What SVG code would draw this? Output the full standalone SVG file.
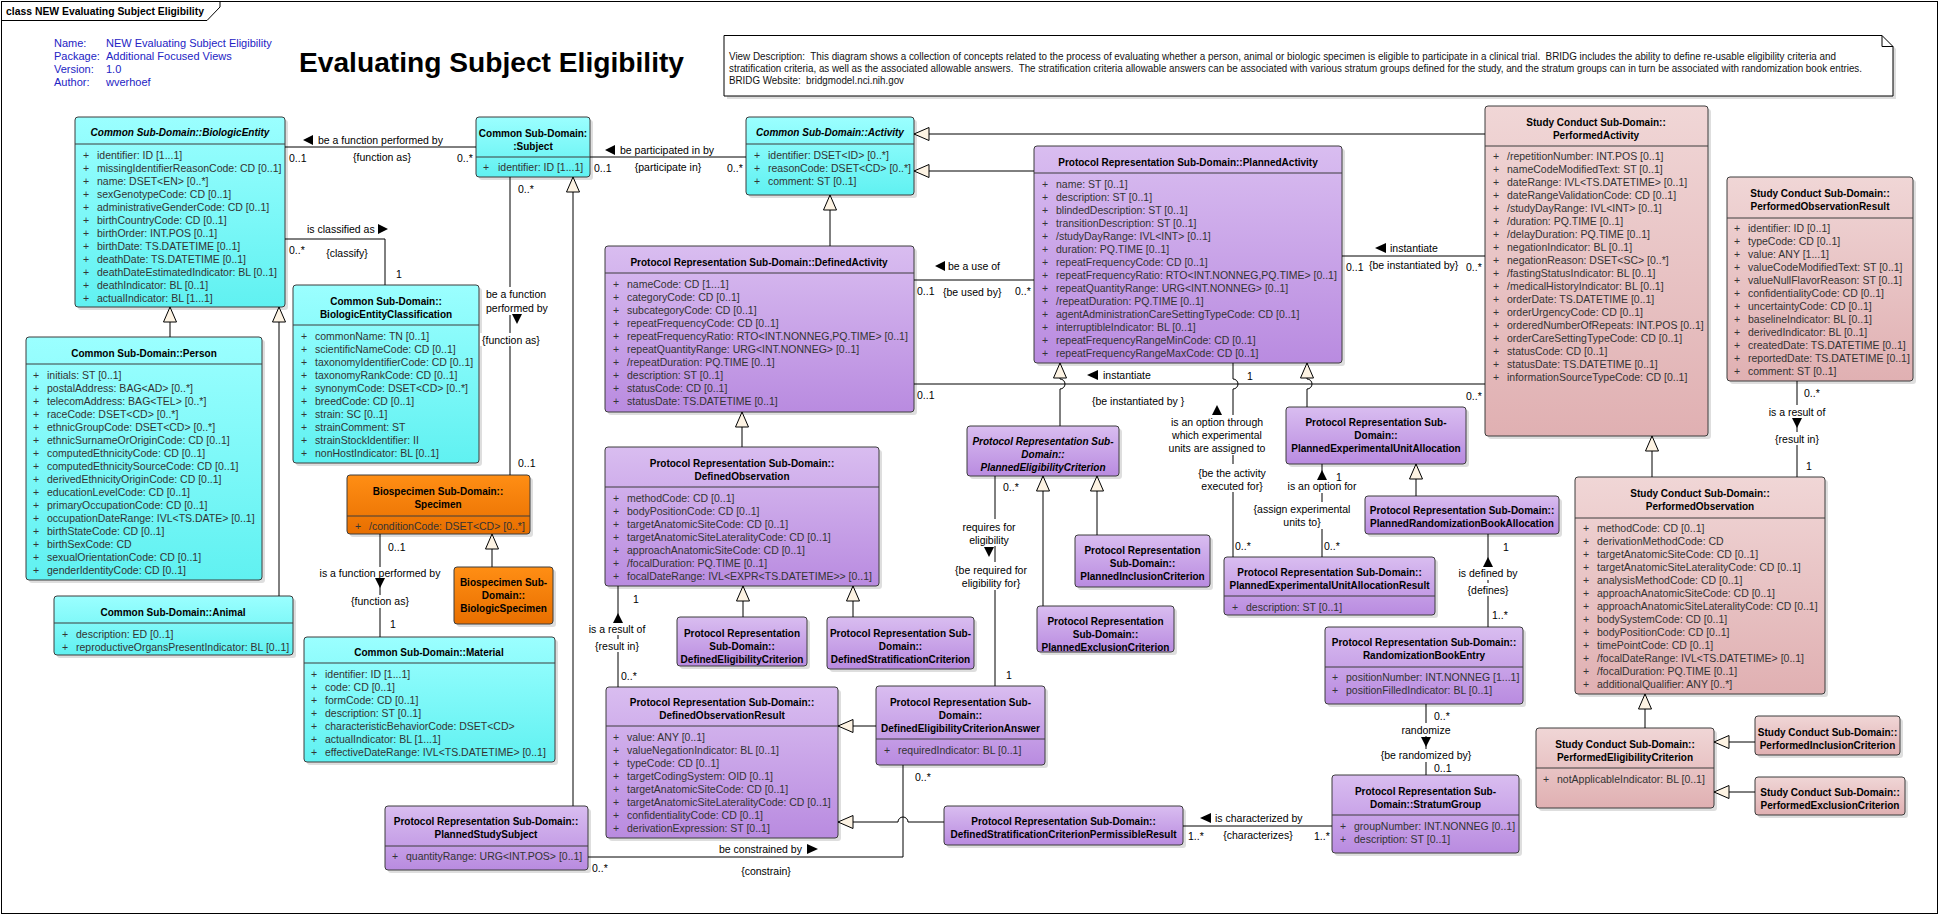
<svg xmlns="http://www.w3.org/2000/svg" width="1939" height="915" viewBox="0 0 1939 915">
<style>
text{font-family:"Liberation Sans",Arial,sans-serif}
.h{font-size:10px;font-weight:bold;text-anchor:middle;fill:#000}
.hi{font-style:italic}
.a{font-size:10.5px;fill:#333}
.l{font-size:10.5px;fill:#000}
.m{text-anchor:middle}
.bx{stroke:#3c3c3c;stroke-width:1}
.cy{fill:url(#gc)}.pu{fill:url(#gp)}.pk{fill:url(#gk)}.or{fill:url(#go)}
.sh{fill:#000;opacity:0.13}
.sp{stroke:#3c3c3c;stroke-width:1}
.c{fill:none;stroke:#000;stroke-width:1}
.g{marker-end:url(#tri)}
.bg{fill:#fff}
.ar{fill:#000}
.info{font-size:11px;fill:#2323c4}
.nt{font-size:10px;fill:#111;white-space:pre}
</style>
<defs>
<linearGradient id="gc" x1="0" y1="0" x2="0" y2="1"><stop offset="0" stop-color="#9bffff"/><stop offset="1" stop-color="#60f1f1"/></linearGradient>
<linearGradient id="gp" x1="0" y1="0" x2="0" y2="1"><stop offset="0" stop-color="#d9bdf0"/><stop offset="1" stop-color="#b98be0"/></linearGradient>
<linearGradient id="gk" x1="0" y1="0" x2="0" y2="1"><stop offset="0" stop-color="#f0d6d6"/><stop offset="1" stop-color="#e0b0b2"/></linearGradient>
<linearGradient id="go" x1="0" y1="0" x2="0" y2="1"><stop offset="0" stop-color="#ff8e14"/><stop offset="1" stop-color="#e86f00"/></linearGradient>
<marker id="tri" viewBox="0 0 16 15" refX="15.5" refY="7.5" markerWidth="16" markerHeight="15" markerUnits="userSpaceOnUse" orient="auto"><path d="M0.5,1 L15.5,7.5 L0.5,14 Z" fill="#fdf3e3" stroke="#000" stroke-width="1"/></marker>
</defs>
<rect x="0" y="0" width="1939" height="915" fill="#fff"/>
<g id="frame">
<rect x="1.5" y="1.5" width="1936" height="912" fill="none" stroke="#000"/>
<path d="M1.5,20.5 H207 L220,7 V1.5" fill="none" stroke="#000"/>
<text x="6" y="15" style="font-size:10.5px;font-weight:bold" textLength="198" lengthAdjust="spacingAndGlyphs">class NEW Evaluating Subject Eligibility</text>
</g>
<g id="info">
<text class="info" x="54" y="47">Name:</text><text class="info" x="106" y="47">NEW Evaluating Subject Eligibility</text>
<text class="info" x="54" y="60">Package:</text><text class="info" x="106" y="60">Additional Focused Views</text>
<text class="info" x="54" y="73">Version:</text><text class="info" x="106" y="73">1.0</text>
<text class="info" x="54" y="86">Author:</text><text class="info" x="106" y="86">wverhoef</text>
</g>
<g id="title"><text x="299" y="72" style="font-size:28px;font-weight:bold" textLength="385" lengthAdjust="spacingAndGlyphs">Evaluating Subject Eligibility</text></g>
<g id="note">
<path d="M727,38 H1885 L1896,49 V99 H727 Z" class="sh"/>
<path d="M724,35.5 H1882 L1893,46.5 V96 H724 Z" fill="#fff" stroke="#000"/>
<path d="M1882,35.5 V46.5 H1893" fill="none" stroke="#000"/>
<text class="nt" x="729" y="59.5" textLength="1107" lengthAdjust="spacingAndGlyphs">View Description:  This diagram shows a collection of concepts related to the process of evaluating whether a person, animal or biologic specimen is eligible to participate in a clinical trial.  BRIDG includes the ability to define re-usable eligibility criteria and</text>
<text class="nt" x="729" y="71.5" textLength="1133" lengthAdjust="spacingAndGlyphs">stratification criteria, as well as the associated allowable answers.  The stratification criteria allowable answers can be associated with various stratum groups defined for the study, and the stratum groups can in turn be associated with randomization book entries.</text>
<text class="nt" x="729" y="83.5" textLength="175" lengthAdjust="spacingAndGlyphs">BRIDG Website:  bridgmodel.nci.nih.gov</text>
</g>

<g id="BiologicEntity">
<rect class="sh" x="78" y="120" width="210" height="190" rx="3"/>
<rect class="bx cy" x="75" y="117" width="210" height="190" rx="3"/>
<line class="sp" x1="75" y1="144" x2="285" y2="144"/>
<text class="h hi" x="180" y="135.5">Common Sub-Domain::BiologicEntity</text>
<text class="a" x="83 83 83 83 83 83 83 83 83 83 83 83" y="158.5 171.5 184.5 197.5 210.5 223.5 236.5 249.5 262.5 275.5 288.5 301.5">++++++++++++</text>
<text class="a"><tspan x="97" y="158.5">identifier: ID [1...1]</tspan><tspan x="97" dy="13">missingIdentifierReasonCode: CD [0..1]</tspan><tspan x="97" dy="13">name: DSET&lt;EN&gt; [0..*]</tspan><tspan x="97" dy="13">sexGenotypeCode: CD [0..1]</tspan><tspan x="97" dy="13">administrativeGenderCode: CD [0..1]</tspan><tspan x="97" dy="13">birthCountryCode: CD [0..1]</tspan><tspan x="97" dy="13">birthOrder: INT.POS [0..1]</tspan><tspan x="97" dy="13">birthDate: TS.DATETIME [0..1]</tspan><tspan x="97" dy="13">deathDate: TS.DATETIME [0..1]</tspan><tspan x="97" dy="13">deathDateEstimatedIndicator: BL [0..1]</tspan><tspan x="97" dy="13">deathIndicator: BL [0..1]</tspan><tspan x="97" dy="13">actualIndicator: BL [1...1]</tspan></text>
</g>

<g id="Subject">
<rect class="sh" x="479" y="120" width="114" height="60" rx="3"/>
<rect class="bx cy" x="476" y="117" width="114" height="60" rx="3"/>
<line class="sp" x1="476" y1="157" x2="590" y2="157"/>
<text class="h" x="533" y="136.5">Common Sub-Domain:</text>
<text class="h" x="533" y="149.5">:Subject</text>
<text class="a" x="483" y="170.5">+</text><text class="a" x="498" y="170.5">identifier: ID [1...1]</text>
</g>

<g id="Activity">
<rect class="sh" x="749" y="120" width="168" height="78" rx="3"/>
<rect class="bx cy" x="746" y="117" width="168" height="78" rx="3"/>
<line class="sp" x1="746" y1="144" x2="914" y2="144"/>
<text class="h hi" x="830" y="135.5">Common Sub-Domain::Activity</text>
<text class="a" x="754 754 754" y="158.5 171.5 184.5">+++</text>
<text class="a"><tspan x="768" y="158.5">identifier: DSET&lt;ID&gt; [0..*]</tspan><tspan x="768" dy="13">reasonCode: DSET&lt;CD&gt; [0..*]</tspan><tspan x="768" dy="13">comment: ST [0..1]</tspan></text>
</g>

<g id="PlannedActivity">
<rect class="sh" x="1037" y="149" width="308" height="217" rx="3"/>
<rect class="bx pu" x="1034" y="146" width="308" height="217" rx="3"/>
<line class="sp" x1="1034" y1="173" x2="1342" y2="173"/>
<text class="h" x="1188" y="165.5">Protocol Representation Sub-Domain::PlannedActivity</text>
<text class="a" x="1042 1042 1042 1042 1042 1042 1042 1042 1042 1042 1042 1042 1042 1042" y="187.5 200.5 213.5 226.5 239.5 252.5 265.5 278.5 291.5 304.5 317.5 330.5 343.5 356.5">++++++++++++++</text>
<text class="a"><tspan x="1056" y="187.5">name: ST [0..1]</tspan><tspan x="1056" dy="13">description: ST [0..1]</tspan><tspan x="1056" dy="13">blindedDescription: ST [0..1]</tspan><tspan x="1056" dy="13">transitionDescription: ST [0..1]</tspan><tspan x="1056" dy="13">/studyDayRange: IVL&lt;INT&gt; [0..1]</tspan><tspan x="1056" dy="13">duration: PQ.TIME [0..1]</tspan><tspan x="1056" dy="13">repeatFrequencyCode: CD [0..1]</tspan><tspan x="1056" dy="13">repeatFrequencyRatio: RTO&lt;INT.NONNEG,PQ.TIME&gt; [0..1]</tspan><tspan x="1056" dy="13">repeatQuantityRange: URG&lt;INT.NONNEG&gt; [0..1]</tspan><tspan x="1056" dy="13">/repeatDuration: PQ.TIME [0..1]</tspan><tspan x="1056" dy="13">agentAdministrationCareSettingTypeCode: CD [0..1]</tspan><tspan x="1056" dy="13">interruptibleIndicator: BL [0..1]</tspan><tspan x="1056" dy="13">repeatFrequencyRangeMinCode: CD [0..1]</tspan><tspan x="1056" dy="13">repeatFrequencyRangeMaxCode: CD [0..1]</tspan></text>
</g>

<g id="PerformedActivity">
<rect class="sh" x="1488" y="109" width="223" height="330" rx="3"/>
<rect class="bx pk" x="1485" y="106" width="223" height="330" rx="3"/>
<line class="sp" x1="1485" y1="146" x2="1708" y2="146"/>
<text class="h" x="1596" y="125.5">Study Conduct Sub-Domain::</text>
<text class="h" x="1596" y="138.5">PerformedActivity</text>
<text class="a" x="1493 1493 1493 1493 1493 1493 1493 1493 1493 1493 1493 1493 1493 1493 1493 1493 1493 1493" y="159.5 172.5 185.5 198.5 211.5 224.5 237.5 250.5 263.5 276.5 289.5 302.5 315.5 328.5 341.5 354.5 367.5 380.5">++++++++++++++++++</text>
<text class="a"><tspan x="1507" y="159.5">/repetitionNumber: INT.POS [0..1]</tspan><tspan x="1507" dy="13">nameCodeModifiedText: ST [0..1]</tspan><tspan x="1507" dy="13">dateRange: IVL&lt;TS.DATETIME&gt; [0..1]</tspan><tspan x="1507" dy="13">dateRangeValidationCode: CD [0..1]</tspan><tspan x="1507" dy="13">/studyDayRange: IVL&lt;INT&gt; [0..1]</tspan><tspan x="1507" dy="13">/duration: PQ.TIME [0..1]</tspan><tspan x="1507" dy="13">/delayDuration: PQ.TIME [0..1]</tspan><tspan x="1507" dy="13">negationIndicator: BL [0..1]</tspan><tspan x="1507" dy="13">negationReason: DSET&lt;SC&gt; [0..*]</tspan><tspan x="1507" dy="13">/fastingStatusIndicator: BL [0..1]</tspan><tspan x="1507" dy="13">/medicalHistoryIndicator: BL [0..1]</tspan><tspan x="1507" dy="13">orderDate: TS.DATETIME [0..1]</tspan><tspan x="1507" dy="13">orderUrgencyCode: CD [0..1]</tspan><tspan x="1507" dy="13">orderedNumberOfRepeats: INT.POS [0..1]</tspan><tspan x="1507" dy="13">orderCareSettingTypeCode: CD [0..1]</tspan><tspan x="1507" dy="13">statusCode: CD [0..1]</tspan><tspan x="1507" dy="13">statusDate: TS.DATETIME [0..1]</tspan><tspan x="1507" dy="13">informationSourceTypeCode: CD [0..1]</tspan></text>
</g>

<g id="PerformedObservationResult">
<rect class="sh" x="1730" y="180" width="186" height="204" rx="3"/>
<rect class="bx pk" x="1727" y="177" width="186" height="204" rx="3"/>
<line class="sp" x1="1727" y1="218" x2="1913" y2="218"/>
<text class="h" x="1820" y="196.5">Study Conduct Sub-Domain::</text>
<text class="h" x="1820" y="209.5">PerformedObservationResult</text>
<text class="a" x="1734 1734 1734 1734 1734 1734 1734 1734 1734 1734 1734 1734" y="231.5 244.5 257.5 270.5 283.5 296.5 309.5 322.5 335.5 348.5 361.5 374.5">++++++++++++</text>
<text class="a"><tspan x="1748" y="231.5">identifier: ID [0..1]</tspan><tspan x="1748" dy="13">typeCode: CD [0..1]</tspan><tspan x="1748" dy="13">value: ANY [1...1]</tspan><tspan x="1748" dy="13">valueCodeModifiedText: ST [0..1]</tspan><tspan x="1748" dy="13">valueNullFlavorReason: ST [0..1]</tspan><tspan x="1748" dy="13">confidentialityCode: CD [0..1]</tspan><tspan x="1748" dy="13">uncertaintyCode: CD [0..1]</tspan><tspan x="1748" dy="13">baselineIndicator: BL [0..1]</tspan><tspan x="1748" dy="13">derivedIndicator: BL [0..1]</tspan><tspan x="1748" dy="13">createdDate: TS.DATETIME [0..1]</tspan><tspan x="1748" dy="13">reportedDate: TS.DATETIME [0..1]</tspan><tspan x="1748" dy="13">comment: ST [0..1]</tspan></text>
</g>

<g id="DefinedActivity">
<rect class="sh" x="608" y="249" width="309" height="166" rx="3"/>
<rect class="bx pu" x="605" y="246" width="309" height="166" rx="3"/>
<line class="sp" x1="605" y1="273" x2="914" y2="273"/>
<text class="h" x="759" y="265.5">Protocol Representation Sub-Domain::DefinedActivity</text>
<text class="a" x="613 613 613 613 613 613 613 613 613 613" y="287.5 300.5 313.5 326.5 339.5 352.5 365.5 378.5 391.5 404.5">++++++++++</text>
<text class="a"><tspan x="627" y="287.5">nameCode: CD [1...1]</tspan><tspan x="627" dy="13">categoryCode: CD [0..1]</tspan><tspan x="627" dy="13">subcategoryCode: CD [0..1]</tspan><tspan x="627" dy="13">repeatFrequencyCode: CD [0..1]</tspan><tspan x="627" dy="13">repeatFrequencyRatio: RTO&lt;INT.NONNEG,PQ.TIME&gt; [0..1]</tspan><tspan x="627" dy="13">repeatQuantityRange: URG&lt;INT.NONNEG&gt; [0..1]</tspan><tspan x="627" dy="13">/repeatDuration: PQ.TIME [0..1]</tspan><tspan x="627" dy="13">description: ST [0..1]</tspan><tspan x="627" dy="13">statusCode: CD [0..1]</tspan><tspan x="627" dy="13">statusDate: TS.DATETIME [0..1]</tspan></text>
</g>

<g id="BiologicEntityClassification">
<rect class="sh" x="296" y="288" width="186" height="178" rx="3"/>
<rect class="bx cy" x="293" y="285" width="186" height="178" rx="3"/>
<line class="sp" x1="293" y1="325" x2="479" y2="325"/>
<text class="h" x="386" y="304.5">Common Sub-Domain::</text>
<text class="h" x="386" y="317.5">BiologicEntityClassification</text>
<text class="a" x="301 301 301 301 301 301 301 301 301 301" y="339.5 352.5 365.5 378.5 391.5 404.5 417.5 430.5 443.5 456.5">++++++++++</text>
<text class="a"><tspan x="315" y="339.5">commonName: TN [0..1]</tspan><tspan x="315" dy="13">scientificNameCode: CD [0..1]</tspan><tspan x="315" dy="13">taxonomyIdentifierCode: CD [0..1]</tspan><tspan x="315" dy="13">taxonomyRankCode: CD [0..1]</tspan><tspan x="315" dy="13">synonymCode: DSET&lt;CD&gt; [0..*]</tspan><tspan x="315" dy="13">breedCode: CD [0..1]</tspan><tspan x="315" dy="13">strain: SC [0..1]</tspan><tspan x="315" dy="13">strainComment: ST</tspan><tspan x="315" dy="13">strainStockIdentifier: II</tspan><tspan x="315" dy="13">nonHostIndicator: BL [0..1]</tspan></text>
</g>

<g id="Person">
<rect class="sh" x="29" y="340" width="236" height="243" rx="3"/>
<rect class="bx cy" x="26" y="337" width="236" height="243" rx="3"/>
<line class="sp" x1="26" y1="364" x2="262" y2="364"/>
<text class="h" x="144" y="356.5">Common Sub-Domain::Person</text>
<text class="a" x="33 33 33 33 33 33 33 33 33 33 33 33 33 33 33 33" y="378.5 391.5 404.5 417.5 430.5 443.5 456.5 469.5 482.5 495.5 508.5 521.5 534.5 547.5 560.5 573.5">++++++++++++++++</text>
<text class="a"><tspan x="47" y="378.5">initials: ST [0..1]</tspan><tspan x="47" dy="13">postalAddress: BAG&lt;AD&gt; [0..*]</tspan><tspan x="47" dy="13">telecomAddress: BAG&lt;TEL&gt; [0..*]</tspan><tspan x="47" dy="13">raceCode: DSET&lt;CD&gt; [0..*]</tspan><tspan x="47" dy="13">ethnicGroupCode: DSET&lt;CD&gt; [0..*]</tspan><tspan x="47" dy="13">ethnicSurnameOrOriginCode: CD [0..1]</tspan><tspan x="47" dy="13">computedEthnicityCode: CD [0..1]</tspan><tspan x="47" dy="13">computedEthnicitySourceCode: CD [0..1]</tspan><tspan x="47" dy="13">derivedEthnicityOriginCode: CD [0..1]</tspan><tspan x="47" dy="13">educationLevelCode: CD [0..1]</tspan><tspan x="47" dy="13">primaryOccupationCode: CD [0..1]</tspan><tspan x="47" dy="13">occupationDateRange: IVL&lt;TS.DATE&gt; [0..1]</tspan><tspan x="47" dy="13">birthStateCode: CD [0..1]</tspan><tspan x="47" dy="13">birthSexCode: CD</tspan><tspan x="47" dy="13">sexualOrientationCode: CD [0..1]</tspan><tspan x="47" dy="13">genderIdentityCode: CD [0..1]</tspan></text>
</g>

<g id="Animal">
<rect class="sh" x="57" y="599" width="239" height="59" rx="3"/>
<rect class="bx cy" x="54" y="596" width="239" height="59" rx="3"/>
<line class="sp" x1="54" y1="623" x2="293" y2="623"/>
<text class="h" x="173" y="615.5">Common Sub-Domain::Animal</text>
<text class="a" x="62 62" y="637.5 650.5">++</text>
<text class="a"><tspan x="76" y="637.5">description: ED [0..1]</tspan><tspan x="76" dy="13">reproductiveOrgansPresentIndicator: BL [0..1]</tspan></text>
</g>

<g id="Specimen">
<rect class="sh" x="350" y="478" width="183" height="59" rx="3"/>
<rect class="bx or" x="347" y="475" width="183" height="59" rx="3"/>
<line class="sp" x1="347" y1="516" x2="530" y2="516"/>
<text class="h" x="438" y="494.5">Biospecimen Sub-Domain::</text>
<text class="h" x="438" y="507.5">Specimen</text>
<text class="a" x="355" y="529.5">+</text><text class="a" x="369" y="529.5">/conditionCode: DSET&lt;CD&gt; [0..*]</text>
</g>

<g id="BiologicSpecimen">
<rect class="sh" x="457" y="570" width="99" height="57" rx="3"/>
<rect class="bx or" x="454" y="567" width="99" height="57" rx="3"/>
<text class="h" x="503.5" y="585.5">Biospecimen Sub-</text>
<text class="h" x="503.5" y="598.5">Domain::</text>
<text class="h" x="503.5" y="611.5">BiologicSpecimen</text>
</g>

<g id="Material">
<rect class="sh" x="307" y="640" width="251" height="125" rx="3"/>
<rect class="bx cy" x="304" y="637" width="251" height="125" rx="3"/>
<line class="sp" x1="304" y1="663" x2="555" y2="663"/>
<text class="h" x="429" y="655.5">Common Sub-Domain::Material</text>
<text class="a" x="311 311 311 311 311 311 311" y="677.5 690.5 703.5 716.5 729.5 742.5 755.5">+++++++</text>
<text class="a"><tspan x="325" y="677.5">identifier: ID [1...1]</tspan><tspan x="325" dy="13">code: CD [0..1]</tspan><tspan x="325" dy="13">formCode: CD [0..1]</tspan><tspan x="325" dy="13">description: ST [0..1]</tspan><tspan x="325" dy="13">characteristicBehaviorCode: DSET&lt;CD&gt;</tspan><tspan x="325" dy="13">actualIndicator: BL [1...1]</tspan><tspan x="325" dy="13">effectiveDateRange: IVL&lt;TS.DATETIME&gt; [0..1]</tspan></text>
</g>

<g id="PlannedStudySubject">
<rect class="sh" x="388" y="809" width="203" height="64" rx="3"/>
<rect class="bx pu" x="385" y="806" width="203" height="64" rx="3"/>
<line class="sp" x1="385" y1="846" x2="588" y2="846"/>
<text class="h" x="486" y="824.5">Protocol Representation Sub-Domain::</text>
<text class="h" x="486" y="837.5">PlannedStudySubject</text>
<text class="a" x="392" y="859.5">+</text><text class="a" x="406" y="859.5">quantityRange: URG&lt;INT.POS&gt; [0..1]</text>
</g>

<g id="PlannedEligibilityCriterion">
<rect class="sh" x="970" y="429" width="152" height="50" rx="3"/>
<rect class="bx pu" x="967" y="426" width="152" height="50" rx="3"/>
<text class="h hi" x="1043" y="444.5">Protocol Representation Sub-</text>
<text class="h hi" x="1043" y="457.5">Domain::</text>
<text class="h hi" x="1043" y="470.5">PlannedEligibilityCriterion</text>
</g>

<g id="PlannedInclusionCriterion">
<rect class="sh" x="1078" y="538" width="135" height="52" rx="3"/>
<rect class="bx pu" x="1075" y="535" width="135" height="52" rx="3"/>
<text class="h" x="1142.5" y="553.5">Protocol Representation</text>
<text class="h" x="1142.5" y="566.5">Sub-Domain::</text>
<text class="h" x="1142.5" y="579.5">PlannedInclusionCriterion</text>
</g>

<g id="PlannedExclusionCriterion">
<rect class="sh" x="1040" y="609" width="137" height="46" rx="3"/>
<rect class="bx pu" x="1037" y="606" width="137" height="46" rx="3"/>
<text class="h" x="1105.5" y="624.5">Protocol Representation</text>
<text class="h" x="1105.5" y="637.5">Sub-Domain::</text>
<text class="h" x="1105.5" y="650.5">PlannedExclusionCriterion</text>
</g>

<g id="DefinedObservation">
<rect class="sh" x="608" y="450" width="274" height="139" rx="3"/>
<rect class="bx pu" x="605" y="447" width="274" height="139" rx="3"/>
<line class="sp" x1="605" y1="487" x2="879" y2="487"/>
<text class="h" x="742" y="466.5">Protocol Representation Sub-Domain::</text>
<text class="h" x="742" y="479.5">DefinedObservation</text>
<text class="a" x="613 613 613 613 613 613 613" y="501.5 514.5 527.5 540.5 553.5 566.5 579.5">+++++++</text>
<text class="a"><tspan x="627" y="501.5">methodCode: CD [0..1]</tspan><tspan x="627" dy="13">bodyPositionCode: CD [0..1]</tspan><tspan x="627" dy="13">targetAnatomicSiteCode: CD [0..1]</tspan><tspan x="627" dy="13">targetAnatomicSiteLateralityCode: CD [0..1]</tspan><tspan x="627" dy="13">approachAnatomicSiteCode: CD [0..1]</tspan><tspan x="627" dy="13">/focalDuration: PQ.TIME [0..1]</tspan><tspan x="627" dy="13">focalDateRange: IVL&lt;EXPR&lt;TS.DATETIME&gt;&gt; [0..1]</tspan></text>
</g>

<g id="DefinedEligibilityCriterion">
<rect class="sh" x="680" y="620" width="130" height="49" rx="3"/>
<rect class="bx pu" x="677" y="617" width="130" height="49" rx="3"/>
<text class="h" x="742" y="636.5">Protocol Representation</text>
<text class="h" x="742" y="649.5">Sub-Domain::</text>
<text class="h" x="742" y="662.5">DefinedEligibilityCriterion</text>
</g>

<g id="DefinedStratificationCriterion">
<rect class="sh" x="830" y="620" width="147" height="52" rx="3"/>
<rect class="bx pu" x="827" y="617" width="147" height="52" rx="3"/>
<text class="h" x="900.5" y="636.5">Protocol Representation Sub-</text>
<text class="h" x="900.5" y="649.5">Domain::</text>
<text class="h" x="900.5" y="662.5">DefinedStratificationCriterion</text>
</g>

<g id="DefinedObservationResult">
<rect class="sh" x="609" y="690" width="232" height="151" rx="3"/>
<rect class="bx pu" x="606" y="687" width="232" height="151" rx="3"/>
<line class="sp" x1="606" y1="726" x2="838" y2="726"/>
<text class="h" x="722" y="705.5">Protocol Representation Sub-Domain::</text>
<text class="h" x="722" y="718.5">DefinedObservationResult</text>
<text class="a" x="613 613 613 613 613 613 613 613" y="740.5 753.5 766.5 779.5 792.5 805.5 818.5 831.5">++++++++</text>
<text class="a"><tspan x="627" y="740.5">value: ANY [0..1]</tspan><tspan x="627" dy="13">valueNegationIndicator: BL [0..1]</tspan><tspan x="627" dy="13">typeCode: CD [0..1]</tspan><tspan x="627" dy="13">targetCodingSystem: OID [0..1]</tspan><tspan x="627" dy="13">targetAnatomicSiteCode: CD [0..1]</tspan><tspan x="627" dy="13">targetAnatomicSiteLateralityCode: CD [0..1]</tspan><tspan x="627" dy="13">confidentialityCode: CD [0..1]</tspan><tspan x="627" dy="13">derivationExpression: ST [0..1]</tspan></text>
</g>

<g id="DefinedEligibilityCriterionAnswer">
<rect class="sh" x="879" y="689" width="169" height="79" rx="3"/>
<rect class="bx pu" x="876" y="686" width="169" height="79" rx="3"/>
<line class="sp" x1="876" y1="739" x2="1045" y2="739"/>
<text class="h" x="960.5" y="705.5">Protocol Representation Sub-</text>
<text class="h" x="960.5" y="718.5">Domain::</text>
<text class="h" x="960.5" y="731.5">DefinedEligibilityCriterionAnswer</text>
<text class="a" x="884" y="753.5">+</text><text class="a" x="898" y="753.5">requiredIndicator: BL [0..1]</text>
</g>

<g id="DefinedStratificationCriterionPermissibleResult">
<rect class="sh" x="947" y="809" width="239" height="39" rx="3"/>
<rect class="bx pu" x="944" y="806" width="239" height="39" rx="3"/>
<text class="h" x="1063.5" y="824.5">Protocol Representation Sub-Domain::</text>
<text class="h" x="1063.5" y="837.5">DefinedStratificationCriterionPermissibleResult</text>
</g>

<g id="PlannedExperimentalUnitAllocation">
<rect class="sh" x="1289" y="410" width="180" height="57" rx="3"/>
<rect class="bx pu" x="1286" y="407" width="180" height="57" rx="3"/>
<text class="h" x="1376" y="425.5">Protocol Representation Sub-</text>
<text class="h" x="1376" y="438.5">Domain::</text>
<text class="h" x="1376" y="451.5">PlannedExperimentalUnitAllocation</text>
</g>

<g id="PlannedRandomizationBookAllocation">
<rect class="sh" x="1368" y="499" width="194" height="38" rx="3"/>
<rect class="bx pu" x="1365" y="496" width="194" height="38" rx="3"/>
<text class="h" x="1462" y="513.5">Protocol Representation Sub-Domain::</text>
<text class="h" x="1462" y="526.5">PlannedRandomizationBookAllocation</text>
</g>

<g id="PlannedExperimentalUnitAllocationResult">
<rect class="sh" x="1227" y="560" width="211" height="58" rx="3"/>
<rect class="bx pu" x="1224" y="557" width="211" height="58" rx="3"/>
<line class="sp" x1="1224" y1="596" x2="1435" y2="596"/>
<text class="h" x="1329.5" y="575.5">Protocol Representation Sub-Domain::</text>
<text class="h" x="1329.5" y="588.5">PlannedExperimentalUnitAllocationResult</text>
<text class="a" x="1232" y="610.5">+</text><text class="a" x="1246" y="610.5">description: ST [0..1]</text>
</g>

<g id="RandomizationBookEntry">
<rect class="sh" x="1328" y="630" width="198" height="77" rx="3"/>
<rect class="bx pu" x="1325" y="627" width="198" height="77" rx="3"/>
<line class="sp" x1="1325" y1="667" x2="1523" y2="667"/>
<text class="h" x="1424" y="645.5">Protocol Representation Sub-Domain::</text>
<text class="h" x="1424" y="658.5">RandomizationBookEntry</text>
<text class="a" x="1332 1332" y="680.5 693.5">++</text>
<text class="a"><tspan x="1346" y="680.5">positionNumber: INT.NONNEG [1...1]</tspan><tspan x="1346" dy="13">positionFilledIndicator: BL [0..1]</tspan></text>
</g>

<g id="StratumGroup">
<rect class="sh" x="1335" y="778" width="187" height="78" rx="3"/>
<rect class="bx pu" x="1332" y="775" width="187" height="78" rx="3"/>
<line class="sp" x1="1332" y1="815" x2="1519" y2="815"/>
<text class="h" x="1425.5" y="794.5">Protocol Representation Sub-</text>
<text class="h" x="1425.5" y="807.5">Domain::StratumGroup</text>
<text class="a" x="1340 1340" y="829.5 842.5">++</text>
<text class="a"><tspan x="1354" y="829.5">groupNumber: INT.NONNEG [0..1]</tspan><tspan x="1354" dy="13">description: ST [0..1]</tspan></text>
</g>

<g id="PerformedObservation">
<rect class="sh" x="1578" y="480" width="250" height="217" rx="3"/>
<rect class="bx pk" x="1575" y="477" width="250" height="217" rx="3"/>
<line class="sp" x1="1575" y1="518" x2="1825" y2="518"/>
<text class="h" x="1700" y="496.5">Study Conduct Sub-Domain::</text>
<text class="h" x="1700" y="509.5">PerformedObservation</text>
<text class="a" x="1583 1583 1583 1583 1583 1583 1583 1583 1583 1583 1583 1583 1583" y="531.5 544.5 557.5 570.5 583.5 596.5 609.5 622.5 635.5 648.5 661.5 674.5 687.5">+++++++++++++</text>
<text class="a"><tspan x="1597" y="531.5">methodCode: CD [0..1]</tspan><tspan x="1597" dy="13">derivationMethodCode: CD</tspan><tspan x="1597" dy="13">targetAnatomicSiteCode: CD [0..1]</tspan><tspan x="1597" dy="13">targetAnatomicSiteLateralityCode: CD [0..1]</tspan><tspan x="1597" dy="13">analysisMethodCode: CD [0..1]</tspan><tspan x="1597" dy="13">approachAnatomicSiteCode: CD [0..1]</tspan><tspan x="1597" dy="13">approachAnatomicSiteLateralityCode: CD [0..1]</tspan><tspan x="1597" dy="13">bodySystemCode: CD [0..1]</tspan><tspan x="1597" dy="13">bodyPositionCode: CD [0..1]</tspan><tspan x="1597" dy="13">timePointCode: CD [0..1]</tspan><tspan x="1597" dy="13">/focalDateRange: IVL&lt;TS.DATETIME&gt; [0..1]</tspan><tspan x="1597" dy="13">/focalDuration: PQ.TIME [0..1]</tspan><tspan x="1597" dy="13">additionalQualifier: ANY [0..*]</tspan></text>
</g>

<g id="PerformedEligibilityCriterion">
<rect class="sh" x="1539" y="731" width="178" height="80" rx="3"/>
<rect class="bx pk" x="1536" y="728" width="178" height="80" rx="3"/>
<line class="sp" x1="1536" y1="768" x2="1714" y2="768"/>
<text class="h" x="1625" y="747.5">Study Conduct Sub-Domain::</text>
<text class="h" x="1625" y="760.5">PerformedEligibilityCriterion</text>
<text class="a" x="1543" y="782.5">+</text><text class="a" x="1557" y="782.5">notApplicableIndicator: BL [0..1]</text>
</g>

<g id="PerformedInclusionCriterion">
<rect class="sh" x="1758" y="719" width="145" height="39" rx="3"/>
<rect class="bx pk" x="1755" y="716" width="145" height="39" rx="3"/>
<text class="h" x="1827.5" y="735.5">Study Conduct Sub-Domain::</text>
<text class="h" x="1827.5" y="748.5">PerformedInclusionCriterion</text>
</g>

<g id="PerformedExclusionCriterion">
<rect class="sh" x="1758" y="780" width="150" height="38" rx="3"/>
<rect class="bx pk" x="1755" y="777" width="150" height="38" rx="3"/>
<text class="h" x="1830" y="795.5">Study Conduct Sub-Domain::</text>
<text class="h" x="1830" y="808.5">PerformedExclusionCriterion</text>
</g>

<g id="connectors">
<path class="c g" d="M170,337 V307"/>
<path class="c g" d="M279,596 V307"/>
<path class="c g" d="M492,567 V534"/>
<path class="c g" d="M573,806 V177"/>
<path class="c g" d="M830,246 V195"/>
<path class="c g" d="M1034,171 H914"/>
<path class="c g" d="M1485,134 H914"/>
<path class="c g" d="M742,447 V412"/>
<path class="c g" d="M743,617 V586"/>
<path class="c g" d="M853,617 V586"/>
<path class="c g" d="M1060,426 V389 A5,5 0 0 0 1060,379 V363"/>
<path class="c g" d="M1307,407 V389 A5,5 0 0 0 1307,379 V363"/>
<path class="c g" d="M1097,535 V476"/>
<path class="c g" d="M1043,606 V476"/>
<path class="c g" d="M1416,496 V464"/>
<path class="c g" d="M876,726 H838"/>
<path class="c g" d="M944,822 H908 A5,5 0 0 0 898,822 H838"/>
<path class="c g" d="M1652,477 V436"/>
<path class="c g" d="M1645,728 V694"/>
<path class="c g" d="M1755,742 H1714"/>
<path class="c g" d="M1755,792 H1714"/>
<path class="c" d="M285,147 H476"/>
<path class="c" d="M285,239 H385 V285"/>
<path class="c" d="M590,157 H746"/>
<path class="c" d="M510,177 V475"/>
<path class="c" d="M380,534 V637"/>
<path class="c" d="M914,280 H1034"/>
<path class="c" d="M1342,256 H1485"/>
<path class="c" d="M914,384 H1485"/>
<path class="c" d="M1233,363 V379 A5,5 0 0 1 1233,389 V557"/>
<path class="c" d="M995,476 V686"/>
<path class="c" d="M618,586 V687"/>
<path class="c" d="M1322,464 V557"/>
<path class="c" d="M1488,534 V627"/>
<path class="c" d="M1426,704 V775"/>
<path class="c" d="M1183,826 H1332"/>
<path class="c" d="M903,765 V857 H588"/>
<path class="c" d="M1797,381 V477"/>
<rect class="bg" x="484" y="287" width="66" height="28"/>
<rect class="bg" x="480" y="333" width="62" height="13"/>
<rect class="bg" x="315" y="567" width="130" height="13"/>
<rect class="bg" x="348" y="595" width="64" height="13"/>
<rect class="bg" x="1168" y="415" width="98" height="40"/>
<rect class="bg" x="1194" y="464" width="76" height="28"/>
<rect class="bg" x="958" y="519" width="62" height="27"/>
<rect class="bg" x="952" y="562" width="78" height="28"/>
<rect class="bg" x="585" y="622" width="65" height="13"/>
<rect class="bg" x="592" y="639" width="51" height="13"/>
<rect class="bg" x="1286" y="480" width="72" height="13"/>
<rect class="bg" x="1254" y="502" width="96" height="27"/>
<rect class="bg" x="1456" y="567" width="64" height="13"/>
<rect class="bg" x="1466" y="583" width="44" height="13"/>
<rect class="bg" x="1401" y="723" width="50" height="13"/>
<rect class="bg" x="1381" y="749" width="90" height="13"/>
<rect class="bg" x="1765" y="405" width="64" height="13"/>
<rect class="bg" x="1771" y="432" width="52" height="13"/>
<polygon class="ar" points="303,140 313,135 313,145"/>
<polygon class="ar" points="378,224 388,229 378,234"/>
<polygon class="ar" points="605,150 615,145 615,155"/>
<polygon class="ar" points="512,314 522,314 517,324"/>
<polygon class="ar" points="375,578 385,578 380,588"/>
<polygon class="ar" points="935,266 945,261 945,271"/>
<polygon class="ar" points="1375,248 1386,243 1386,253"/>
<polygon class="ar" points="1087,375 1098,370 1098,380"/>
<polygon class="ar" points="1212,415 1222,415 1217,405"/>
<polygon class="ar" points="984,547 994,547 989,557"/>
<polygon class="ar" points="613,623 623,623 618,613"/>
<polygon class="ar" points="1317,480 1327,480 1322,470"/>
<polygon class="ar" points="1483,567 1493,567 1488,557"/>
<polygon class="ar" points="1421,737 1431,737 1426,747"/>
<polygon class="ar" points="1200,818 1211,813 1211,823"/>
<polygon class="ar" points="807,844 818,849 807,854"/>
<polygon class="ar" points="1792,418 1802,418 1797,428"/>
<text class="l" x="318" y="143.5">be a function performed by</text>
<text class="l m" x="382" y="160.5">{function as}</text>
<text class="l" x="289" y="161.5">0..1</text>
<text class="l" x="457" y="161.5">0..*</text>
<text class="l" x="307" y="232.5">is classified as</text>
<text class="l" x="289" y="253.5">0..*</text>
<text class="l m" x="347" y="256.5">{classify}</text>
<text class="l" x="396" y="277.5">1</text>
<text class="l" x="620" y="153.5">be participated in by</text>
<text class="l m" x="668" y="170.5">{participate in}</text>
<text class="l" x="594" y="171.5">0..1</text>
<text class="l" x="727" y="171.5">0..*</text>
<text class="l" x="518" y="192.5">0..*</text>
<text class="l" x="486" y="297.5">be a function</text>
<text class="l" x="486" y="311.5">performed by</text>
<text class="l" x="482" y="343.5">{function as}</text>
<text class="l" x="518" y="466.5">0..1</text>
<text class="l" x="388" y="550.5">0..1</text>
<text class="l m" x="380" y="576.5">is a function performed by</text>
<text class="l m" x="380" y="604.5">{function as}</text>
<text class="l" x="390" y="627.5">1</text>
<text class="l" x="948" y="269.5">be a use of</text>
<text class="l" x="917" y="294.5">0..1</text>
<text class="l" x="943" y="295.5">{be used by}</text>
<text class="l" x="1015" y="294.5">0..*</text>
<text class="l" x="1390" y="251.5">instantiate</text>
<text class="l" x="1346" y="270.5">0..1</text>
<text class="l" x="1369" y="268.5">{be instantiated by}</text>
<text class="l" x="1466" y="270.5">0..*</text>
<text class="l" x="1103" y="378.5">instantiate</text>
<text class="l" x="1092" y="404.5">{be instantiated by }</text>
<text class="l" x="917" y="398.5">0..1</text>
<text class="l" x="1466" y="399.5">0..*</text>
<text class="l" x="1247" y="379.5">1</text>
<text class="l m" x="1217" y="425.5">is an option through</text>
<text class="l m" x="1217" y="438.5">which experimental</text>
<text class="l m" x="1217" y="451.5">units are assigned to</text>
<text class="l m" x="1232" y="476.5">{be the activity</text>
<text class="l m" x="1232" y="489.5">executed for}</text>
<text class="l" x="1235" y="549.5">0..*</text>
<text class="l" x="1003" y="490.5">0..*</text>
<text class="l m" x="989" y="530.5">requires for</text>
<text class="l m" x="989" y="543.5">eligibility</text>
<text class="l m" x="991" y="573.5">{be required for</text>
<text class="l m" x="991" y="586.5">eligibility for}</text>
<text class="l" x="1006" y="678.5">1</text>
<text class="l" x="633" y="602.5">1</text>
<text class="l m" x="617" y="632.5">is a result of</text>
<text class="l m" x="617" y="649.5">{result in}</text>
<text class="l" x="621" y="679.5">0..*</text>
<text class="l" x="1336" y="480.5">1</text>
<text class="l m" x="1322" y="489.5">is an option for</text>
<text class="l m" x="1302" y="512.5">{assign experimental</text>
<text class="l m" x="1302" y="525.5">units to}</text>
<text class="l" x="1324" y="549.5">0..*</text>
<text class="l" x="1503" y="550.5">1</text>
<text class="l m" x="1488" y="576.5">is defined by</text>
<text class="l m" x="1488" y="593.5">{defines}</text>
<text class="l" x="1492" y="618.5">1..*</text>
<text class="l" x="1434" y="719.5">0..*</text>
<text class="l m" x="1426" y="733.5">randomize</text>
<text class="l m" x="1426" y="759">{be randomized by}</text>
<text class="l" x="1434" y="771.5">0..1</text>
<text class="l" x="1215" y="821.5">is characterized by</text>
<text class="l m" x="1258" y="838.5">{characterizes}</text>
<text class="l" x="1188" y="839.5">1..*</text>
<text class="l" x="1314" y="839.5">1..*</text>
<text class="l" x="915" y="780.5">0..*</text>
<text class="l" x="719" y="852.5">be constrained by</text>
<text class="l m" x="766" y="874.5">{constrain}</text>
<text class="l" x="592" y="871.5">0..*</text>
<text class="l" x="1804" y="396.5">0..*</text>
<text class="l m" x="1797" y="415.5">is a result of</text>
<text class="l m" x="1797" y="442.5">{result in}</text>
<text class="l" x="1806" y="469.5">1</text>
</g>
</svg>
